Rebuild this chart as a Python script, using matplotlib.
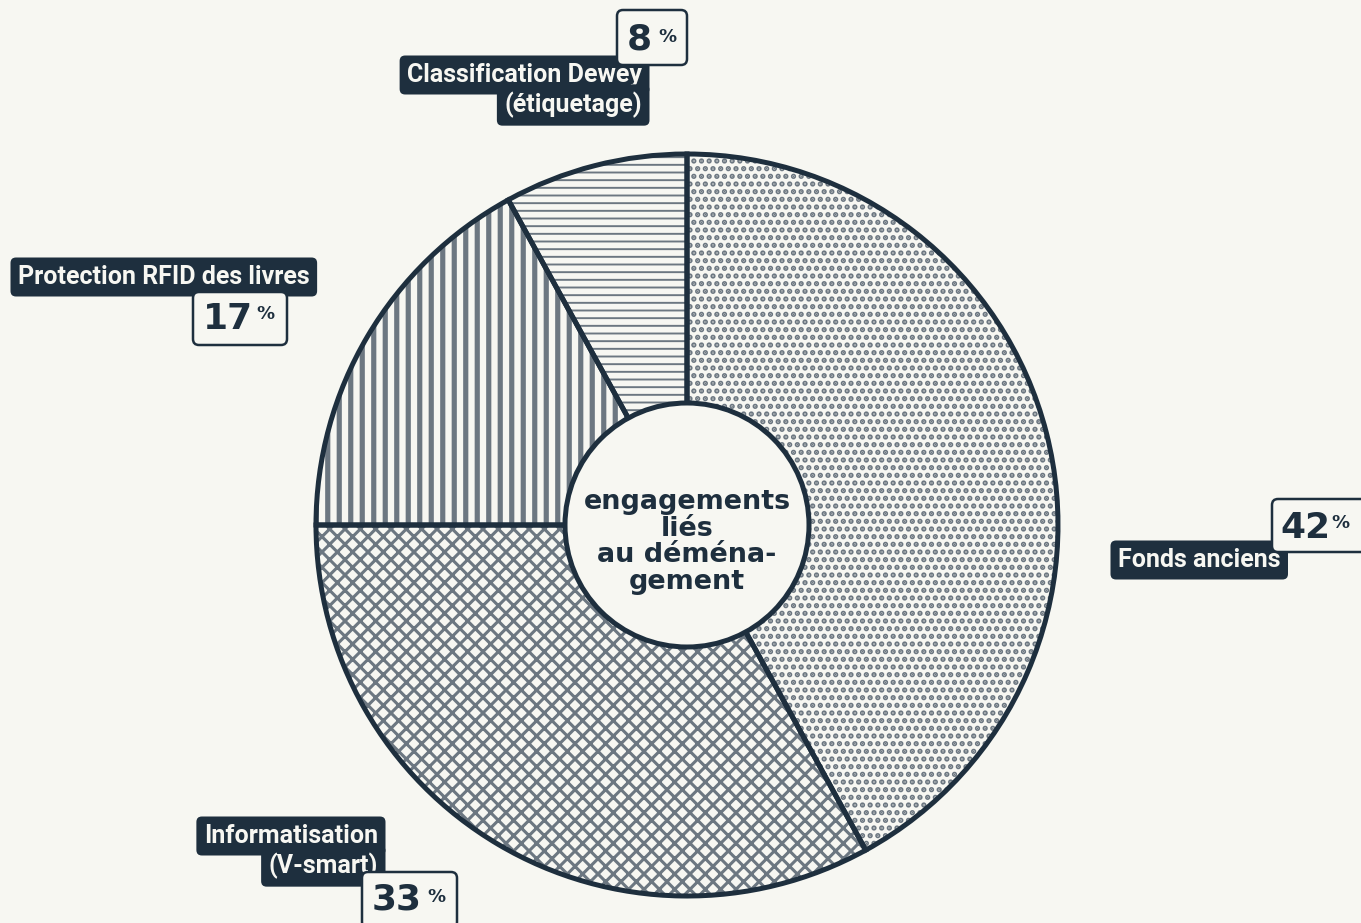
import matplotlib.pyplot as plt
from matplotlib.patches import Circle, FancyBboxPatch

# Données
categories = ['Fonds anciens', 'Informatisation\n(V-smart)',
              'Protection RFID des livres', 'Classification Dewey\n(étiquetage)']
parts = [42, 33, 17, 8]
motifs = ['...', 'xxx', '||', '---']
motif_epaisseur = [1.9, 1.6, 2.7, 1.0]
titre_centre = 'engagements\nliés\nau déména-\ngement'

# Couleurs
fond = '#f7f7f2'
marine = '#1e2f3e'
gris = '#6c7781'

W, H, DPI = 1361, 923, 138
PT = 72 / DPI  # pixels -> points


def Y(y):
    return H - y


plt.rcParams['hatch.linewidth'] = 1.5

fig = plt.figure(figsize=(W / DPI, H / DPI), dpi=DPI, facecolor=fond)
ax = fig.add_axes([0, 0, 1, 1])
ax.set_facecolor(fond)

cx, cy, R, r_in = 687, 525, 371, 122

# Secteurs hachurés
wedges, _ = ax.pie(parts, radius=R, center=(cx, Y(cy)), startangle=90,
                   counterclock=False, colors=[fond] * 4, hatch=motifs,
                   wedgeprops=dict(edgecolor=gris, linewidth=0))
for w, lw in zip(wedges, motif_epaisseur):
    if hasattr(w, 'set_hatch_linewidth'):
        w.set_hatch_linewidth(lw)
    else:
        w._hatch_linewidth = lw

# Contours
ax.pie(parts, radius=R, center=(cx, Y(cy)), startangle=90, counterclock=False,
       wedgeprops=dict(fill=False, edgecolor=marine, linewidth=5 * PT))

ax.add_patch(Circle((cx, Y(cy)), r_in, facecolor=fond, edgecolor=marine,
                    linewidth=5 * PT, zorder=5))
ax.text(cx, Y(542), titre_centre, ha='center', va='center', color=marine,
        fontsize=27 * PT, fontweight='bold', family='DejaVu Sans',
        linespacing=1.02, zorder=6)

# Étiquettes (mise en page en pixels)
etiquettes = [
    (1118, [560], 'left'),
    (378, [836, 866], 'right'),
    (18, [277], 'left'),
    (642, [75, 105], 'right'),
]
# boîte % : x0, y0, x1, y1, centre du nombre, départ du signe %
boites = [
    ((1272, 499, 1380, 552), (1305, 528), (1331, 523)),
    ((362, 872, 457, 928), (397, 900), (427, 897)),
    ((193, 292, 287, 345), (228, 319), (256, 314)),
    ((617, 10, 687, 65), (639, 40), (658, 37)),
]

for cat, (x, ys, ha), val, (bx, nb, pc) in zip(categories, etiquettes, parts, boites):
    for ligne, y in zip(cat.split('\n'), ys):
        ax.text(x, Y(y), ligne, ha=ha, va='center', color=fond,
                fontsize=25 * PT, fontweight='bold', family='Roboto', zorder=7,
                bbox=dict(boxstyle='round,pad=0.3,rounding_size=0.22',
                          fc=marine, ec='none'))
    x0, y0, x1, y1 = bx
    ax.add_patch(FancyBboxPatch((x0, Y(y1)), x1 - x0, y1 - y0,
                                boxstyle='round,pad=0,rounding_size=6',
                                fc=fond, ec=marine, linewidth=2.5 * PT, zorder=8))
    ax.text(nb[0], Y(nb[1]), str(val), ha='center', va='center', color=marine,
            fontsize=36 * PT, fontweight='bold', family='DejaVu Sans', zorder=9)
    ax.text(pc[0], Y(pc[1]), '%', ha='left', va='center', color=marine,
            fontsize=18 * PT, fontweight='bold', family='DejaVu Sans', zorder=9)

ax.set_xlim(0, W)
ax.set_ylim(0, H)
ax.set_aspect('auto')
ax.axis('off')

fig.savefig('out.png', dpi=DPI, facecolor=fond)
